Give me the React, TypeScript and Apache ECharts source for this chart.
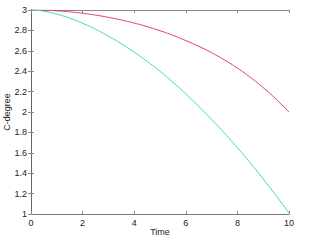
import React, { useEffect, useRef } from "react";
import * as echarts from "echarts";

const timeValues = [0, 0.5, 1, 1.5, 2, 2.5, 3, 3.5, 4, 4.5, 5, 5.5, 6, 6.5, 7, 7.5, 8, 8.5, 9, 9.5, 10];
const redValues = [
  3, 2.998, 2.992, 2.982, 2.968, 2.95, 2.928, 2.902, 2.872, 2.837, 2.797,
  2.752, 2.7, 2.644, 2.581, 2.51, 2.43, 2.34, 2.239, 2.126, 2.0,
];
const tealValues = [
  3, 2.988, 2.96, 2.92, 2.87, 2.811, 2.744, 2.669, 2.586, 2.496, 2.399,
  2.292, 2.177, 2.056, 1.927, 1.792, 1.65, 1.5, 1.344, 1.18, 1.01,
];
const xTicks = [0, 2, 4, 6, 8, 10];
const yTicks = [1, 1.2, 1.4, 1.6, 1.8, 2, 2.2, 2.4, 2.6, 2.8, 3];

const FONT = "'Liberation Sans', Arial, sans-serif";

export default function App() {
  const ref = useRef<HTMLDivElement>(null);
  useEffect(() => {
    if (!ref.current) return;
    const chart = echarts.init(ref.current, undefined, { renderer: "svg" });
    const tick = { show: true, inside: true, length: 3, lineStyle: { color: "#888", width: 1 } };
    const red = timeValues.map((t, i) => [t, redValues[i]]);
    const teal = timeValues.map((t, i) => [t, tealValues[i]]);
    chart.setOption({
      animation: false,
      backgroundColor: "#fff",
      grid: {
        left: 31,
        right: 23,
        top: 10,
        bottom: 27,
        show: false,
        containLabel: false,
        outerBoundsMode: "none",
      },
      xAxis: [
        {
          type: "value",
          min: xTicks[0],
          max: xTicks[xTicks.length - 1],
          interval: 2,
          name: "Time",
          nameLocation: "middle",
          nameGap: 13,
          nameMoveOverlap: false,
          nameTextStyle: { fontFamily: FONT, fontSize: 9, color: "#222" },
          axisLine: { show: true, lineStyle: { color: "#777", width: 1 } },
          axisTick: tick,
          axisLabel: { fontFamily: FONT, fontSize: 9, color: "#222", margin: 4 },
          splitLine: { show: false },
        },
        {
          type: "value",
          position: "top",
          min: xTicks[0],
          max: xTicks[xTicks.length - 1],
          interval: 2,
          axisLine: { show: true, lineStyle: { color: "#888", width: 1 } },
          axisTick: tick,
          axisLabel: { show: false },
          splitLine: { show: false },
        },
      ],
      yAxis: [
        {
          type: "value",
          min: yTicks[0],
          max: yTicks[yTicks.length - 1],
          interval: 0.2,
          name: "C-degree",
          nameLocation: "middle",
          nameGap: 20,
          nameMoveOverlap: false,
          nameTextStyle: { fontFamily: FONT, fontSize: 9, color: "#222" },
          axisLine: { show: true, lineStyle: { color: "#333", width: 1 } },
          axisTick: tick,
          axisLabel: { fontFamily: FONT, fontSize: 9, color: "#222", margin: 4 },
          splitLine: { show: false },
        },
        {
          type: "value",
          position: "right",
          min: yTicks[0],
          max: yTicks[yTicks.length - 1],
          interval: 0.2,
          axisLine: { show: true, lineStyle: { color: "#666", width: 1 } },
          axisTick: tick,
          axisLabel: { show: false },
          splitLine: { show: false },
        },
      ],
      series: [
        {
          type: "line",
          data: red,
          smooth: true,
          symbol: "none",
          lineStyle: { color: "#dc3a6e", width: 1 },
        },
        {
          type: "line",
          data: teal,
          smooth: true,
          symbol: "none",
          lineStyle: { color: "#3ed8c0", width: 1 },
        },
      ],
    });
    return () => chart.dispose();
  }, []);
  return (
    <div
      ref={ref}
      style={{ position: "absolute", left: 0, top: 0, width: 312, height: 241 }}
    />
  );
}
